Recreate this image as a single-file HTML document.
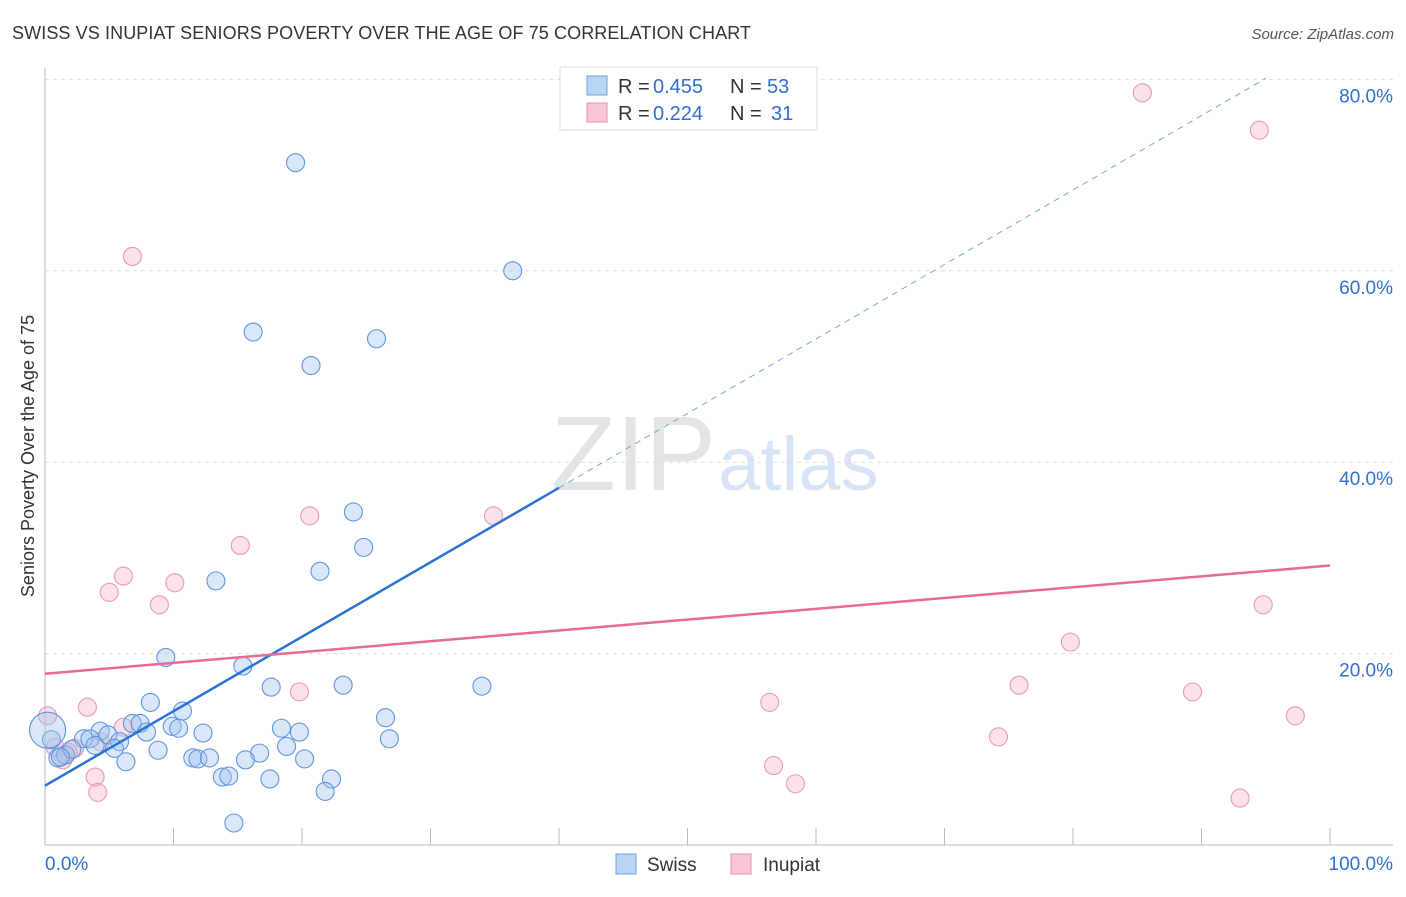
<!DOCTYPE html>
<html><head><meta charset="utf-8"><style>
body{margin:0;background:#fff;font-family:"Liberation Sans",sans-serif}
svg text{font-family:"Liberation Sans",sans-serif}
</style></head><body>
<svg width="1406" height="892" id="chart">
<text x="12" y="39" font-size="18" fill="#333" textLength="739">SWISS VS INUPIAT SENIORS POVERTY OVER THE AGE OF 75 CORRELATION CHART</text>
<text x="1394" y="39" font-size="15" fill="#555" text-anchor="end" font-style="italic">Source: ZipAtlas.com</text>
<text x="716" y="490" font-size="106" fill="#e4e4e4" text-anchor="end" font-family="Liberation Serif">ZIP</text>
<text x="718" y="490" font-size="76" fill="#d6e4f5">atlas</text>
<text transform="translate(34,456) rotate(-90)" font-size="18" fill="#333" text-anchor="middle">Seniors Poverty Over the Age of 75</text>
<g id="grid"></g><g id="axes"></g><g id="pts"></g><g id="lines"></g>
<g>
<rect x="560" y="67" width="257" height="63" fill="#fff" stroke="#ddd"/>
<rect x="587" y="76" width="20" height="19" fill="#b9d4f5" stroke="#6a9fe0"/>
<rect x="587" y="103" width="20" height="19" fill="#f8c8d6" stroke="#e890ac"/>
<text x="618" y="93" font-size="20" fill="#333">R =</text>
<text x="653" y="93" font-size="20" fill="#2f6fd4">0.455</text>
<text x="730" y="93" font-size="20" fill="#333">N =</text>
<text x="767" y="93" font-size="20" fill="#2f6fd4">53</text>
<text x="618" y="120" font-size="20" fill="#333">R =</text>
<text x="653" y="120" font-size="20" fill="#2f6fd4">0.224</text>
<text x="730" y="120" font-size="20" fill="#333">N =</text>
<text x="771" y="120" font-size="20" fill="#2f6fd4">31</text>
</g>
<g>
<rect x="616" y="854" width="20" height="20" fill="#b9d4f5" stroke="#6a9fe0"/>
<text x="647" y="871" font-size="19" fill="#333">Swiss</text>
<rect x="731" y="854" width="20" height="20" fill="#f8c8d6" stroke="#e890ac"/>
<text x="763" y="871" font-size="19" fill="#333">Inupiat</text>
</g>
</svg>
<script>
const swissX=[19.5,36.4,16.2,25.8,20.7,24.0,24.8,21.4,13.3,9.4,15.4,8.2,17.6,23.2,34.0,10.7,26.5,6.8,7.4,9.9,10.4,4.3,4.9,7.9,12.3,18.4,19.8,3.0,3.5,5.8,5.4,8.8,18.8,16.7,26.8,11.5,11.9,12.8,6.3,15.6,20.2,13.8,14.3,17.5,22.3,21.8,14.7,1.0,1.6,2.1,3.9,0.5,1.2];
const swissY=[71.3,60.0,53.6,52.9,50.1,34.8,31.1,28.6,27.6,19.6,18.7,14.9,16.5,16.7,16.6,14.0,13.3,12.7,12.7,12.4,12.2,11.9,11.5,11.8,11.7,12.2,11.8,11.1,11.1,10.8,10.1,9.9,10.3,9.6,11.1,9.1,9.0,9.1,8.7,8.9,9.0,7.1,7.2,6.9,6.9,5.6,2.3,9.1,9.4,10.0,10.4,11.0,9.2];
const inuX=[85.4,94.5,6.8,15.2,20.6,34.9,6.1,5.0,10.1,8.9,19.8,3.3,56.4,75.8,79.8,94.8,89.3,97.3,74.2,56.7,58.4,93.0,3.9,4.1,6.1,0.2,0.8,1.4,2.3,1.8,4.3];
const inuY=[78.6,74.7,61.5,31.3,34.4,34.4,28.1,26.4,27.4,25.1,16.0,14.4,14.9,16.7,21.2,25.1,16.0,13.5,11.3,8.3,6.4,4.9,7.1,5.5,12.3,13.5,10.2,8.9,10.1,9.7,10.8];
const yTicks=[20,40,60,80];
const xTicks=[0,10,20,30,40,50,60,70,80,90,100];
const swissLine=[6.2,0.778];
const inuLine=[17.9,0.113];
const X=v=>45+v*12.85, Y=v=>845-v*9.57;
const NS="http://www.w3.org/2000/svg";
function mk(t,a,p){const e=document.createElementNS(NS,t);for(const k in a)e.setAttribute(k,a[k]);document.getElementById(p).appendChild(e);return e;}
yTicks.forEach(v=>{
 const g=mk('line',{x1:45,x2:1393,y1:Y(v),y2:Y(v),stroke:'#ddd','stroke-dasharray':'4,4'},'grid');
 
 
 const t=mk('text',{x:1393,y:Y(v)+23,'font-size':19,fill:'#2f6fd4','text-anchor':'end'},'grid');
 t.textContent=v.toFixed(1)+'%';
 
 
});
mk('line',{x1:45,x2:45,y1:68,y2:845,stroke:'#bbb'},'axes');
mk('line',{x1:45,x2:1393,y1:845,y2:845,stroke:'#bbb'},'axes');
xTicks.forEach(v=>{const l=mk('line',{x1:X(v),x2:X(v),y1:828,y2:845,stroke:'#bbb'},'axes');
 
 });
[[0,'0.0%','start',45],[100,'100.0%','end',1393]].forEach(d=>{const t=mk('text',{x:d[3],y:870,'font-size':19,fill:'#2f6fd4','text-anchor':d[2]},'axes');t.textContent=d[1];
 
 });
inuX.forEach((x,i)=>{const c=mk('circle',{cx:X(x),cy:Y(inuY[i]),r:9,fill:'rgba(245,170,195,0.35)',stroke:'#e99ab5','stroke-width':1.1},'pts');
 
 });
swissX.forEach((x,i)=>{const c=mk('circle',{cx:X(x),cy:Y(swissY[i]),r:9,fill:'rgba(160,195,240,0.4)',stroke:'#5f95dd','stroke-width':1.1},'pts');
 
 });
const big=mk('circle',{cx:X(0.2),cy:Y(12.0),r:18,fill:'rgba(160,195,240,0.4)',stroke:'#5f95dd','stroke-width':1.1},'pts');


const sl=mk('line',{x1:X(0),y1:Y(swissLine[0]),x2:X(40),y2:Y(swissLine[0]+40*swissLine[1]),stroke:'#2a72d6','stroke-width':2.5},'lines');


const sd=mk('line',{x1:X(40),y1:Y(swissLine[0]+40*swissLine[1]),x2:X(95),y2:Y(swissLine[0]+95*swissLine[1]),stroke:'#7aa5e0','stroke-width':1,'stroke-dasharray':'6,5'},'lines');


const il=mk('line',{x1:X(0),y1:Y(inuLine[0]),x2:X(100),y2:Y(inuLine[0]+100*inuLine[1]),stroke:'#e56b95','stroke-width':2.5},'lines');


</script>
</body></html>
